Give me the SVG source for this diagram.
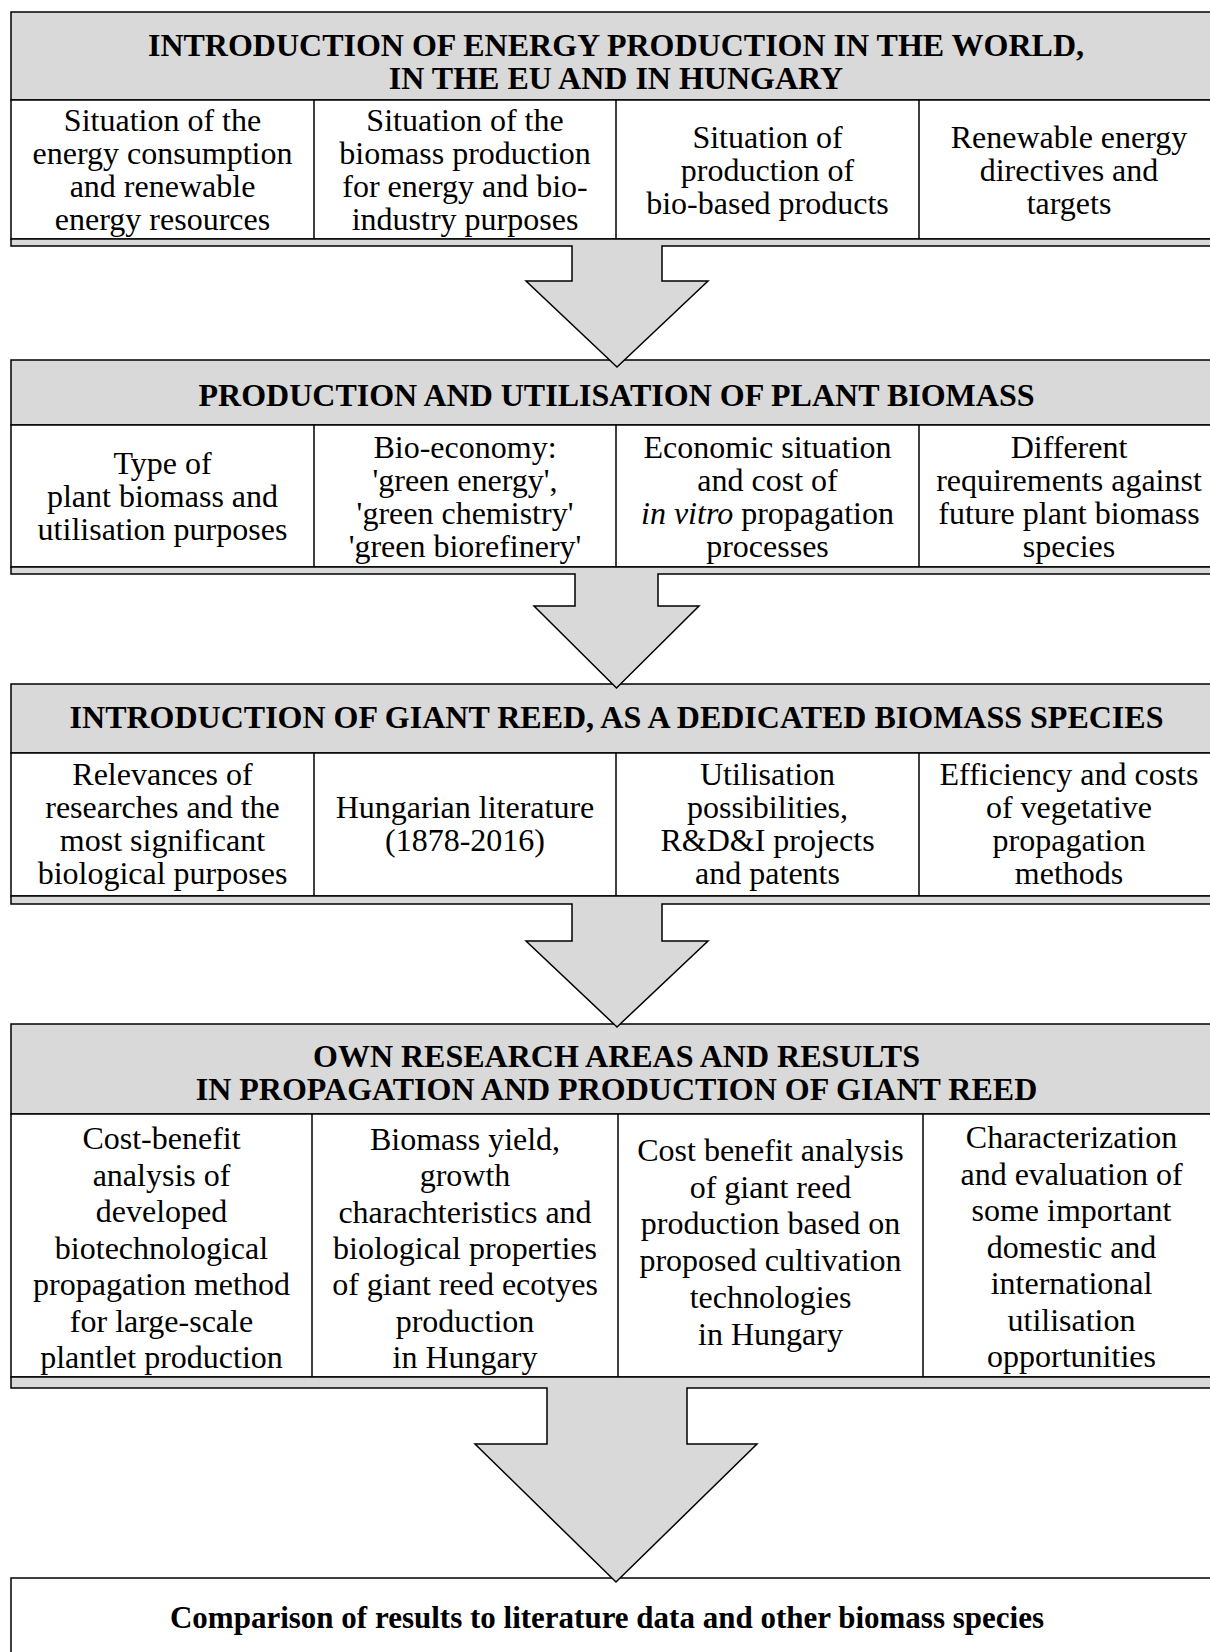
<svg xmlns="http://www.w3.org/2000/svg" width="1210" height="1652" viewBox="0 0 1210 1652">
<style>
.hdr{fill:#d9d9d9;stroke:#000;stroke-width:1.5}
.cell{fill:#fff;stroke:#000;stroke-width:1.5}
.dv{stroke:#000;stroke-width:1.5}
.arrow{fill:#d9d9d9;stroke:#000;stroke-width:1.5;stroke-linejoin:miter}
text{font-family:"Liberation Serif","Times New Roman",serif;font-size:32px;fill:#000;text-anchor:middle}
.b{font-weight:bold}
.i{font-style:italic}
</style>
<rect x="0" y="0" width="1210" height="1652" fill="#fff"/>

<g id="box1">
<rect class="hdr" x="11" y="12" width="1215" height="88"/>
<rect class="cell" x="11" y="100" width="1215" height="139"/>
<line class="dv" x1="314" y1="100" x2="314" y2="239"/>
<line class="dv" x1="616" y1="100" x2="616" y2="239"/>
<line class="dv" x1="919" y1="100" x2="919" y2="239"/>
<text class="b" x="616" y="56">INTRODUCTION OF ENERGY PRODUCTION IN THE WORLD,</text>
<text class="b" x="616" y="89">IN THE EU AND IN HUNGARY</text>
<text x="162.5" y="131">Situation of the</text>
<text x="162.5" y="164">energy consumption</text>
<text x="162.5" y="197">and renewable</text>
<text x="162.5" y="230">energy resources</text>
<text x="465" y="131">Situation of the</text>
<text x="465" y="164">biomass production</text>
<text x="465" y="197">for energy and bio-</text>
<text x="465" y="230">industry purposes</text>
<text x="767.5" y="147.5">Situation of</text>
<text x="767.5" y="180.5">production of</text>
<text x="767.5" y="213.5">bio-based products</text>
<text x="1069" y="147.5">Renewable energy</text>
<text x="1069" y="180.5">directives and</text>
<text x="1069" y="213.5">targets</text>
</g>

<g id="box2">
<rect class="hdr" x="11" y="360" width="1215" height="65"/>
<rect class="cell" x="11" y="425" width="1215" height="142"/>
<line class="dv" x1="314" y1="425" x2="314" y2="567"/>
<line class="dv" x1="616" y1="425" x2="616" y2="567"/>
<line class="dv" x1="919" y1="425" x2="919" y2="567"/>
<text class="b" x="616.5" y="406">PRODUCTION AND UTILISATION OF PLANT BIOMASS</text>
<text x="162.5" y="474">Type of</text>
<text x="162.5" y="507">plant biomass and</text>
<text x="162.5" y="540">utilisation purposes</text>
<text x="465" y="458">Bio-economy:</text>
<text x="465" y="491">'green energy',</text>
<text x="465" y="524">'green chemistry'</text>
<text x="465" y="557">'green biorefinery'</text>
<text x="767.5" y="458">Economic situation</text>
<text x="767.5" y="491">and cost of</text>
<text x="767.5" y="524"><tspan class="i">in vitro</tspan> propagation</text>
<text x="767.5" y="557">processes</text>
<text x="1069" y="458">Different</text>
<text x="1069" y="491">requirements against</text>
<text x="1069" y="524">future plant biomass</text>
<text x="1069" y="557">species</text>
</g>

<g id="box3">
<rect class="hdr" x="11" y="684" width="1215" height="69"/>
<rect class="cell" x="11" y="753" width="1215" height="143"/>
<line class="dv" x1="314" y1="753" x2="314" y2="896"/>
<line class="dv" x1="616" y1="753" x2="616" y2="896"/>
<line class="dv" x1="919" y1="753" x2="919" y2="896"/>
<text class="b" x="616.5" y="728">INTRODUCTION OF GIANT REED, AS A DEDICATED BIOMASS SPECIES</text>
<text x="162.5" y="785">Relevances of</text>
<text x="162.5" y="818">researches and the</text>
<text x="162.5" y="851">most significant</text>
<text x="162.5" y="884">biological purposes</text>
<text x="465" y="818">Hungarian literature</text>
<text x="465" y="851">(1878-2016)</text>
<text x="767.5" y="785">Utilisation</text>
<text x="767.5" y="818">possibilities,</text>
<text x="767.5" y="851">R&amp;D&amp;I projects</text>
<text x="767.5" y="884">and patents</text>
<text x="1069" y="785">Efficiency and costs</text>
<text x="1069" y="818">of vegetative</text>
<text x="1069" y="851">propagation</text>
<text x="1069" y="884">methods</text>
</g>

<g id="box4">
<rect class="hdr" x="11" y="1024" width="1215" height="90"/>
<rect class="cell" x="11" y="1114" width="1215" height="263"/>
<line class="dv" x1="312" y1="1114" x2="312" y2="1377"/>
<line class="dv" x1="618" y1="1114" x2="618" y2="1377"/>
<line class="dv" x1="923" y1="1114" x2="923" y2="1377"/>
<text class="b" x="616.5" y="1067">OWN RESEARCH AREAS AND RESULTS</text>
<text class="b" x="616.5" y="1100">IN PROPAGATION AND PRODUCTION OF GIANT REED</text>
<text x="161.5" y="1149">Cost-benefit</text>
<text x="161.5" y="1185.5">analysis of</text>
<text x="161.5" y="1222">developed</text>
<text x="161.5" y="1258.5">biotechnological</text>
<text x="161.5" y="1295">propagation method</text>
<text x="161.5" y="1331.5">for large-scale</text>
<text x="161.5" y="1368">plantlet production</text>
<text x="465" y="1150">Biomass yield,</text>
<text x="465" y="1186.3">growth</text>
<text x="465" y="1222.6">charachteristics and</text>
<text x="465" y="1258.9">biological properties</text>
<text x="465" y="1295.2">of giant reed ecotyes</text>
<text x="465" y="1331.5">production</text>
<text x="465" y="1367.8">in Hungary</text>
<text x="770.5" y="1161">Cost benefit analysis</text>
<text x="770.5" y="1197.7">of giant reed</text>
<text x="770.5" y="1234.4">production based on</text>
<text x="770.5" y="1271.1">proposed cultivation</text>
<text x="770.5" y="1307.8">technologies</text>
<text x="770.5" y="1344.5">in Hungary</text>
<text x="1071.5" y="1148">Characterization</text>
<text x="1071.5" y="1184.5">and evaluation of</text>
<text x="1071.5" y="1221">some important</text>
<text x="1071.5" y="1257.5">domestic and</text>
<text x="1071.5" y="1294">international</text>
<text x="1071.5" y="1330.5">utilisation</text>
<text x="1071.5" y="1367">opportunities</text>
</g>

<g id="box5">
<rect class="cell" x="11" y="1578" width="1215" height="100"/>
<text class="b" x="607" y="1628" style="font-size:31px">Comparison of results to literature data and other biomass species</text>
</g>

<g id="connectors">
<path class="arrow" d="M11,239 H1226 V246 H662 V281 H708 L617,367 L526,281 H572 V246 H11 Z"/>
<path class="arrow" d="M11,567 H1226 V574 H658 V606 H699 L616.5,688 L534,606 H575 V574 H11 Z"/>
<path class="arrow" d="M11,896 H1226 V904 H662 V941 H708 L617,1027 L526,941 H572 V904 H11 Z"/>
<path class="arrow" d="M11,1377 H1226 V1388 H687 V1444 H757 L616,1582 L475,1444 H547 V1388 H11 Z"/>
</g>
</svg>
